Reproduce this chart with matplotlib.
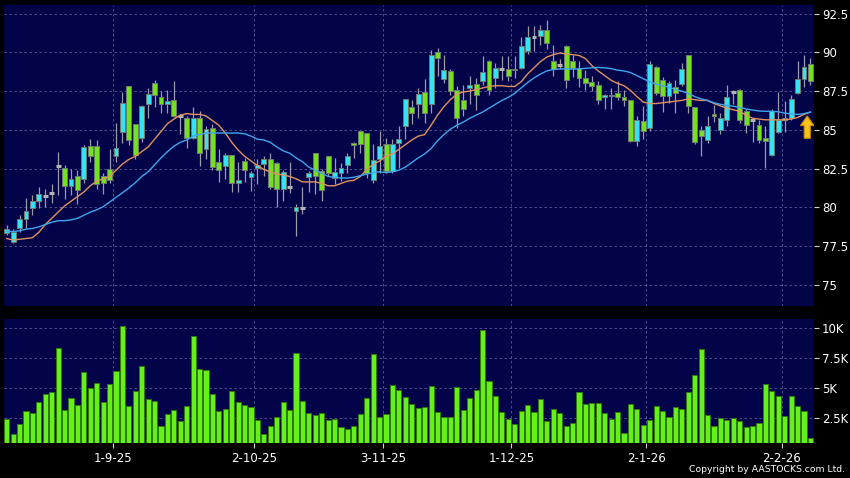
import matplotlib
matplotlib.use("Agg")
import matplotlib.pyplot as plt
from matplotlib.patches import FancyArrow

# daily candles, index 0 = mid Aug 2025, last = 6 Feb 2026
opens = [78.35, 77.8, 78.65, 79.25, 79.95, 80.4, 80.75, 80.95, 82.66, 82.57,
         81.4, 82.0, 81.86, 83.96, 83.96, 82.0, 82.46, 83.32, 84.86, 87.86,
         85.35, 84.45, 86.64, 88.0, 87.11, 86.7, 86.96, 85.9, 85.78, 84.5,
         85.74, 83.75, 85.14, 82.96, 82.68, 83.36, 81.6, 82.98, 81.99, 82.57,
         82.78, 83.15, 82.89, 81.18, 81.35, 79.79, 79.94, 81.99, 83.49, 82.36,
         83.32, 81.88, 82.21, 82.72, 84.18, 84.92, 84.78, 81.78, 83.1, 84.07,
         82.36, 84.13, 85.25, 86.49, 86.7, 87.43, 86.7, 90.0, 88.29, 88.78,
         87.56, 86.9, 87.67, 87.99, 88.18, 89.42, 88.35, 88.93, 88.95, 88.84,
         88.99, 90.11, 90.98, 91.03, 91.46, 89.42, 89.2, 90.43, 89.46, 88.99,
         88.35, 88.07, 87.92, 87.09, 87.17, 87.39, 87.13, 86.92, 84.28, 85.6,
         85.14, 89.06, 88.2, 87.17, 87.75, 87.99, 89.85, 86.49, 84.99, 84.35,
         86.0, 84.99, 85.65, 87.43, 87.6, 86.25, 85.67, 85.29, 84.5, 83.36,
         84.86, 85.65, 85.78, 87.39, 88.31, 89.27]
highs = [78.9, 78.6, 79.5, 80.6, 80.8, 81.35, 81.2, 81.5, 83.58, 82.75,
         82.46, 82.4, 84.0, 84.43, 84.35, 82.25, 83.8, 85.46, 87.43, 87.86,
         85.4, 86.6, 87.7, 88.2, 87.5, 87.56, 88.14, 86.0, 85.9, 86.49,
         86.2, 85.25, 85.35, 83.75, 83.53, 83.4, 82.9, 83.2, 82.36, 83.1,
         83.3, 83.53, 82.9, 82.42, 82.9, 80.21, 81.35, 82.36, 83.5, 82.46,
         83.35, 83.2, 82.89, 83.53, 84.2, 84.95, 84.8, 84.07, 84.92, 84.5,
         84.39, 85.25, 87.0, 86.96, 87.71, 88.29, 90.17, 90.28, 89.85, 88.9,
         87.8, 87.92, 88.5, 88.35, 89.79, 89.53, 89.31, 89.79, 89.79, 89.79,
         90.98, 91.67, 91.71, 91.78, 92.1, 90.49, 89.6, 90.5, 89.85, 89.42,
         88.89, 88.46, 88.14, 87.34, 87.71, 88.14, 87.6, 86.92, 85.89, 86.53,
         89.42, 89.14, 88.42, 88.14, 88.24, 89.31, 89.85, 86.49, 85.25, 85.89,
         86.58, 86.1, 87.92, 87.6, 87.64, 86.32, 85.78, 85.67, 85.25, 86.32,
         87.43, 86.87, 87.28, 89.42, 89.85, 89.64]
lows = [78.2, 77.7, 78.4, 78.65, 79.5, 79.95, 80.0, 80.3, 80.79, 80.55,
        80.8, 80.2, 81.56, 82.9, 81.18, 80.85, 81.6, 82.9, 84.18, 84.0,
        83.1, 84.2, 85.78, 86.5, 86.06, 86.06, 85.85, 84.71, 83.85, 84.4,
        82.68, 83.1, 82.42, 81.65, 81.82, 81.0, 81.0, 81.65, 81.05, 81.5,
        82.0, 81.2, 80.06, 80.43, 80.96, 78.18, 79.57, 81.0, 80.86, 80.43,
        82.03, 81.5, 81.71, 82.25, 83.21, 83.53, 81.93, 81.6, 82.25, 82.25,
        82.25, 82.57, 84.43, 85.35, 85.78, 85.46, 86.06, 88.46, 88.03, 87.22,
        85.14, 85.89, 86.7, 86.27, 87.92, 87.28, 87.71, 88.24, 88.14, 88.35,
        88.93, 89.91, 90.06, 90.49, 90.21, 88.46, 88.9, 87.7, 88.42, 87.77,
        87.6, 87.49, 86.64, 86.32, 86.36, 86.96, 86.53, 84.22, 83.96, 84.39,
        84.92, 87.28, 86.15, 86.75, 86.06, 87.82, 86.06, 84.07, 83.32, 84.18,
        85.5, 84.71, 85.25, 86.64, 85.46, 84.82, 84.22, 84.18, 82.57, 83.32,
        84.82, 84.86, 85.65, 87.34, 87.77, 87.92]
closes = [78.6, 78.45, 79.25, 79.76, 80.4, 80.9, 80.78, 80.97, 82.7, 81.4,
          81.86, 81.13, 83.92, 83.32, 81.5, 81.6, 81.78, 83.85, 86.75, 84.35,
          83.36, 86.53, 87.34, 87.28, 86.7, 86.87, 85.89, 85.88, 84.5, 85.74,
          83.53, 85.03, 82.63, 82.42, 83.36, 81.6, 81.78, 82.42, 82.21, 82.72,
          83.15, 81.29, 81.18, 82.29, 81.4, 80.06, 79.96, 82.21, 82.03, 81.13,
          82.25, 82.29, 82.57, 83.32, 84.0, 84.07, 82.25, 83.06, 83.96, 82.36,
          84.11, 84.43, 87.0, 86.1, 87.34, 86.06, 89.85, 89.64, 88.84, 87.49,
          85.74, 86.32, 87.92, 87.22, 88.74, 87.6, 88.99, 88.95, 88.5, 88.95,
          90.43, 90.98, 91.0, 91.46, 90.6, 88.93, 89.22, 88.2, 88.99, 88.35,
          88.03, 87.86, 86.96, 87.22, 87.28, 87.13, 86.92, 84.28, 85.67, 84.95,
          89.27, 87.39, 87.17, 88.03, 87.39, 88.95, 86.53, 84.22, 84.6, 85.25,
          85.89, 85.78, 87.11, 87.45, 85.67, 85.29, 85.65, 84.35, 84.28, 86.21,
          85.65, 85.78, 87.0, 88.31, 89.06, 88.14]

# volume in thousands
volumes = [2.44, 1.19, 2.06, 3.11, 2.97, 3.89, 4.53, 4.72, 8.39, 3.17,
           4.17, 3.58, 6.39, 5.06, 5.44, 3.86, 5.36, 6.47, 10.22, 3.53,
           4.78, 6.89, 4.08, 3.94, 1.89, 2.83, 3.17, 2.28, 3.53, 9.39,
           6.61, 6.56, 4.5, 3.14, 3.25, 4.78, 3.89, 3.61, 3.47, 2.36,
           1.19, 1.89, 2.64, 3.83, 3.17, 7.97, 3.97, 2.92, 2.78, 2.94,
           2.36, 2.44, 1.81, 1.64, 1.89, 2.83, 4.17, 7.83, 2.61, 2.86,
           5.28, 4.86, 4.28, 3.69, 3.36, 3.48, 5.16, 3.0, 2.64, 2.58,
           5.08, 3.23, 4.18, 4.88, 9.84, 5.61, 4.4, 3.0, 2.42, 2.02,
           3.14, 3.62, 3.06, 4.12, 2.28, 3.28, 2.92, 1.86, 2.08, 4.66,
           3.68, 3.76, 3.76, 2.92, 2.44, 3.06, 1.27, 3.68, 3.26, 1.94,
           2.39, 3.56, 3.12, 2.64, 3.45, 3.31, 4.66, 6.09, 8.3, 2.75,
           1.86, 2.5, 2.36, 2.53, 2.25, 1.74, 1.86, 2.14, 5.39, 4.8,
           4.38, 2.7, 4.32, 3.51, 3.09, 0.85]

# moving averages as drawn on the chart
ma_short = [78.0, 77.9, 77.95, 78.0, 78.05, 78.4, 78.9, 79.3, 79.7, 80.1,
            80.4, 80.7, 81.0, 81.4, 81.7, 81.85, 82.0, 82.4, 82.8, 83.1,
            83.3, 83.6, 83.9, 84.4, 84.9, 85.4, 85.7, 85.95, 86.05, 86.0,
            86.0, 85.9, 85.6, 85.3, 84.8, 84.2, 83.7, 83.3, 83.0, 82.7,
            82.45, 82.3, 82.15, 82.1, 82.0, 81.85, 81.65, 81.65, 81.65, 81.55,
            81.4, 81.4, 81.55, 81.7, 81.75, 82.0, 82.45, 82.78, 83.0, 83.3,
            83.45, 83.75, 84.05, 84.35, 84.6, 84.7, 85.3, 85.95, 86.5, 86.95,
            87.3, 87.45, 87.5, 87.6, 87.7, 87.8, 87.85, 87.85, 87.8, 87.8,
            88.1, 88.6, 89.0, 89.4, 89.7, 89.85, 89.95, 89.9, 89.85, 89.8,
            89.6, 89.15, 88.8, 88.5, 88.2, 88.0, 87.85, 87.55, 87.15, 86.8,
            86.7, 86.7, 86.75, 86.8, 86.85, 86.9, 87.0, 86.95, 86.9, 86.9,
            86.7, 86.55, 86.4, 86.3, 86.2, 85.95, 85.75, 85.7, 85.65, 85.65,
            85.65, 85.65, 85.7, 85.8, 86.0, 86.15]
ma_long = [78.45, 78.45, 78.5, 78.6, 78.65, 78.75, 78.9, 79.05, 79.15, 79.15,
           79.2, 79.3, 79.5, 79.7, 79.85, 80.05, 80.35, 80.65, 80.95, 81.25,
           81.6, 82.0, 82.3, 82.75, 83.2, 83.6, 83.95, 84.2, 84.35, 84.6,
           84.7, 84.8, 84.8, 84.8, 84.8, 84.8, 84.8, 84.75, 84.6, 84.4,
           84.35, 84.2, 83.9, 83.65, 83.5, 83.2, 82.95, 82.6, 82.4, 82.2,
           82.0, 81.95, 81.9, 81.9, 81.95, 82.05, 82.15, 82.25, 82.3, 82.25,
           82.3, 82.4, 82.6, 82.9, 83.2, 83.45, 83.8, 84.3, 84.7, 85.05,
           85.3, 85.5, 85.75, 85.95, 86.15, 86.4, 86.65, 86.9, 87.1, 87.35,
           87.7, 88.05, 88.35, 88.6, 88.8, 88.9, 88.93, 88.93, 88.92, 88.93,
           88.97, 89.0, 89.03, 89.0, 88.95, 88.85, 88.8, 88.7, 88.5, 88.3,
           88.1, 87.95, 87.85, 87.75, 87.6, 87.5, 87.35, 87.15, 87.0, 86.9,
           86.75, 86.65, 86.57, 86.53, 86.45, 86.35, 86.28, 86.22, 86.2, 86.2,
           86.17, 86.08, 86.03, 86.0, 86.05, 86.15]

month_pos = [16.5, 38.5, 58.5, 78.5, 99.5, 120.5]
month_labels = ["1-9-25", "2-10-25", "3-11-25", "1-12-25", "2-1-26", "2-2-26"]
price_ticks = [75, 77.5, 80, 82.5, 85, 87.5, 90, 92.5]
price_labels = ["75", "77.5", "80", "82.5", "85", "87.5", "90", "92.5"]
vol_ticks = [2.5, 5, 7.5, 10]
vol_labels = ["2.5K", "5K", "7.5K", "10K"]

BG = "#03034a"
GRID = "#5a5a96"
UP = "#30e4f4"
DOWN = "#72e21e"
VOL = "#66f01a"

fig = plt.figure(figsize=(8.5, 4.78), dpi=100, facecolor="black")
ax = fig.add_axes([0.0047, 0.3598, 0.9533, 0.6297], facecolor=BG)
axv = fig.add_axes([0.0047, 0.0726, 0.9533, 0.2594], facecolor=BG)

xs = list(range(len(closes)))
for a in (ax, axv):
    for s in a.spines.values():
        s.set_visible(False)
    a.set_xlim(-0.42, 125.6)
    for m in month_pos:
        a.axvline(m, color=GRID, lw=0.6, ls=(0, (3, 3)), zorder=0)

for t in price_ticks:
    ax.axhline(t, color=GRID, lw=0.6, ls=(0, (3, 3)), zorder=0)
for t in vol_ticks:
    axv.axhline(t, color=GRID, lw=0.6, ls=(0, (3, 3)), zorder=0)

# candles
ax.vlines(xs, lows, highs, color="#9a9aa8", lw=0.9, zorder=2)
for i, (o, c) in enumerate(zip(opens, closes)):
    if abs(c - o) < 0.06:
        ax.hlines(o, i - 0.38, i + 0.38, color="#b4b4b4", lw=2.2, zorder=3)
        continue
    col = UP if c > o else DOWN
    ax.bar(i, abs(c - o), bottom=min(o, c), width=0.76, color=col,
           edgecolor="#6f7a70", linewidth=0.7, zorder=3)

ax.plot(xs, ma_short, color="#e0925e", lw=1.0, zorder=4)
ax.plot(xs, ma_long, color="#3ea6ee", lw=1.0, zorder=4)

ax.add_patch(FancyArrow(124.5, 84.46, 0, 1.44, width=0.95, head_width=2.1,
                        head_length=0.62, length_includes_head=True,
                        fc="#f7c21e", ec="#c88a00", lw=0.8, zorder=5))

ax.set_ylim(73.65, 93.05)
ax.set_yticks(price_ticks)
ax.set_yticklabels(price_labels)
ax.set_xticks([])

axv.bar(xs, volumes, width=0.8, color=VOL, edgecolor="#2f7a0a", linewidth=0.7, zorder=2)
axv.set_ylim(0.42, 10.75)
axv.set_yticks(vol_ticks)
axv.set_yticklabels(vol_labels)
axv.set_xticks(month_pos)
axv.set_xticklabels(month_labels)

for a in (ax, axv):
    a.yaxis.tick_right()
    a.tick_params(axis="y", colors="#d0d0d0", labelcolor="white", labelsize=8.5,
                  length=3.5, width=0.8, pad=2)
axv.tick_params(axis="x", colors="#d0d0d0", labelcolor="white", labelsize=8.5,
                length=3.5, width=0.8, pad=3)

fig.text(0.994, 0.008, "Copyright by AASTOCKS.com Ltd.", ha="right", va="bottom",
         color="white", fontsize=6.7)

fig.savefig("out.png", dpi=100, facecolor="black")
